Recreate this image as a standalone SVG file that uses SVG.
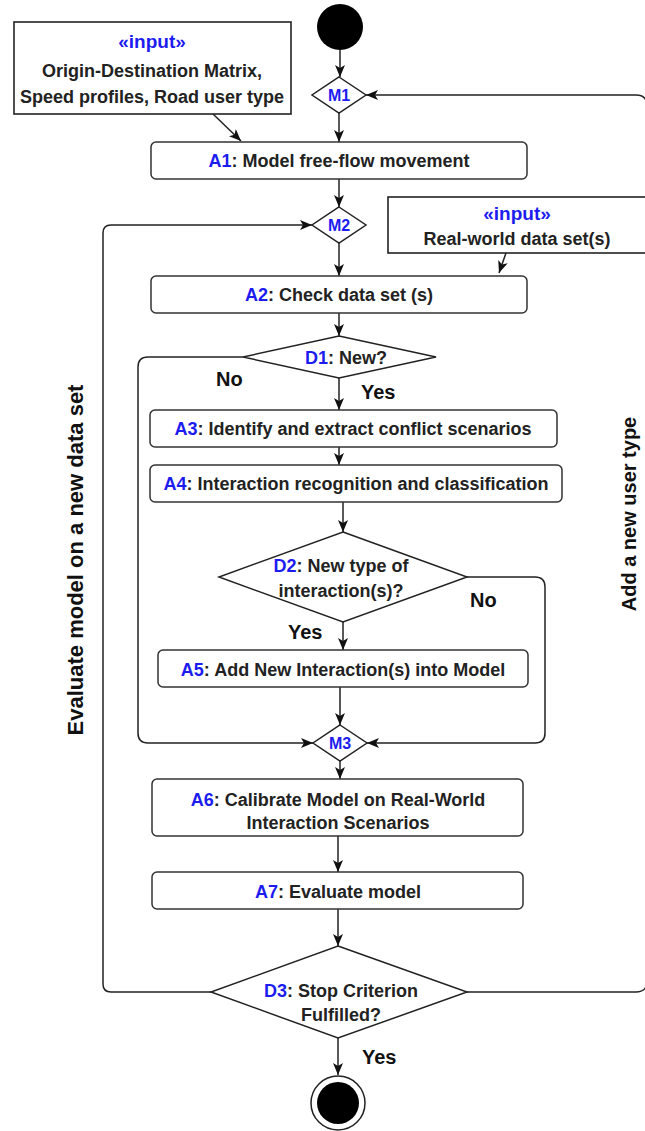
<svg xmlns="http://www.w3.org/2000/svg" width="645" height="1131" viewBox="0 0 645 1131">
<style>
  .box{fill:#fff;stroke:#333;stroke-width:1.5}
  .inbox{fill:#fff;stroke:#222;stroke-width:1.6}
  .dia{fill:#fff;stroke:#222;stroke-width:1.5}
  .t{font-family:"Liberation Sans",Arial,sans-serif;font-weight:bold;font-size:18px;fill:#222;text-anchor:middle}
  .b{fill:#1c1cf0}
  .m{font-family:"Liberation Sans",Arial,sans-serif;font-weight:bold;font-size:16px;fill:#1c1cf0;text-anchor:middle}
  .lbl{font-family:"Liberation Sans",Arial,sans-serif;font-weight:bold;font-size:20px;fill:#111}
  .c{fill:none;stroke:#222;stroke-width:1.5}
  .ca{fill:none;stroke:#222;stroke-width:1.5;marker-end:url(#arr)}
</style>
<defs>
  <marker id="arr" viewBox="0 0 12 10" refX="12" refY="5" markerWidth="12" markerHeight="10" markerUnits="userSpaceOnUse" orient="auto">
    <path d="M0,0 L12,5 L0,10 L3,5 z" fill="#111"/>
  </marker>
</defs>

<g id="connectors">
  <line class="ca" x1="340" y1="50" x2="340" y2="77"/>
  <line class="ca" x1="339" y1="113" x2="339" y2="142"/>
  <line class="ca" x1="213" y1="114" x2="241" y2="141"/>
  <line class="ca" x1="339" y1="179" x2="339" y2="207"/>
  <line class="ca" x1="339" y1="243" x2="339" y2="276"/>
  <line class="ca" x1="506" y1="253" x2="499" y2="273"/>
  <line class="ca" x1="339" y1="313" x2="339" y2="336"/>
  <line class="ca" x1="339" y1="378" x2="339" y2="410"/>
  <line class="ca" x1="339" y1="447" x2="339" y2="465"/>
  <line class="ca" x1="343" y1="502" x2="343" y2="532"/>
  <line class="ca" x1="343" y1="622" x2="343" y2="650"/>
  <line class="ca" x1="340" y1="687" x2="340" y2="725"/>
  <line class="ca" x1="340" y1="761" x2="340" y2="779"/>
  <line class="ca" x1="338" y1="836" x2="338" y2="872"/>
  <line class="ca" x1="338" y1="909" x2="338" y2="946"/>
  <line class="ca" x1="338" y1="1038" x2="338" y2="1075"/>
  <path class="ca" d="M243,357 H148 Q138,357 138,367 V733 Q138,743 148,743 H313"/>
  <path class="ca" d="M467,577 H535 Q545,577 545,587 V733 Q545,743 535,743 H367"/>
  <path class="ca" d="M211,992 H111 Q103,992 103,984 V233 Q103,225 111,225 H312"/>
  <path class="ca" d="M467,992 H636 Q647,992 647,981 V106 Q647,95 636,95 H366"/>
</g>

<g id="start"><circle cx="340" cy="27" r="23" fill="#000"/></g>

<g id="input1">
  <rect class="inbox" x="14" y="22" width="277" height="92"/>
  <text class="t" x="152" y="48" style="font-size:19px"><tspan class="b">«input»</tspan></text>
  <text class="t" x="152" y="77">Origin-Destination Matrix,</text>
  <text class="t" x="152" y="103">Speed profiles, Road user type</text>
</g>

<g id="M1">
  <polygon class="dia" points="339,77 366,95 339,113 312,95"/>
  <text class="m" x="339" y="101">M1</text>
</g>

<g id="A1">
  <rect class="box" x="151" y="142" width="376" height="37" rx="5"/>
  <text class="t" x="339" y="167"><tspan class="b">A1</tspan>: Model free-flow movement</text>
</g>

<g id="M2">
  <polygon class="dia" points="339,207 366,225 339,243 312,225"/>
  <text class="m" x="339" y="231">M2</text>
</g>

<g id="input2">
  <rect class="inbox" x="388" y="197" width="270" height="56"/>
  <text class="t" x="517" y="220" style="font-size:19px"><tspan class="b">«input»</tspan></text>
  <text class="t" x="517" y="245">Real-world data set(s)</text>
</g>

<g id="A2">
  <rect class="box" x="151" y="276" width="376" height="37" rx="5"/>
  <text class="t" x="339" y="301"><tspan class="b">A2</tspan>: Check data set (s)</text>
</g>

<g id="D1">
  <polygon class="dia" points="339,336 436,357 339,378 243,357"/>
  <text class="t" x="346" y="364"><tspan class="b">D1</tspan>: New?</text>
</g>
<text class="lbl" x="216" y="386">No</text>
<text class="lbl" x="361" y="399">Yes</text>

<g id="A3">
  <rect class="box" x="150" y="410" width="407" height="37" rx="5"/>
  <text class="t" x="353" y="435"><tspan class="b">A3</tspan>: Identify and extract conflict scenarios</text>
</g>

<g id="A4">
  <rect class="box" x="150" y="465" width="412" height="37" rx="5"/>
  <text class="t" x="356" y="490"><tspan class="b">A4</tspan>: Interaction recognition and classification</text>
</g>

<g id="D2">
  <polygon class="dia" points="343,532 467,577 343,622 219,577"/>
  <text class="t" x="341" y="572"><tspan class="b">D2</tspan>: New type of</text>
  <text class="t" x="341" y="597">interaction(s)?</text>
</g>
<text class="lbl" x="470" y="607">No</text>
<text class="lbl" x="288" y="639">Yes</text>

<g id="A5">
  <rect class="box" x="158" y="650" width="370" height="37" rx="5"/>
  <text class="t" x="343" y="676"><tspan class="b">A5</tspan>: Add New Interaction(s) into Model</text>
</g>

<g id="M3">
  <polygon class="dia" points="340,725 367,743 340,761 313,743"/>
  <text class="m" x="340" y="749">M3</text>
</g>

<g id="A6">
  <rect class="box" x="152" y="779" width="371" height="57" rx="5"/>
  <text class="t" x="338" y="806"><tspan class="b">A6</tspan>: Calibrate Model on Real-World</text>
  <text class="t" x="338" y="829">Interaction Scenarios</text>
</g>

<g id="A7">
  <rect class="box" x="152" y="872" width="371" height="37" rx="5"/>
  <text class="t" x="338" y="898"><tspan class="b">A7</tspan>: Evaluate model</text>
</g>

<g id="D3">
  <polygon class="dia" points="338,946 467,992 338,1038 211,992"/>
  <text class="t" x="341" y="997"><tspan class="b">D3</tspan>: Stop Criterion</text>
  <text class="t" x="341" y="1021">Fulfilled?</text>
</g>
<text class="lbl" x="362" y="1064">Yes</text>

<g id="end">
  <circle cx="338" cy="1103" r="27" fill="#fff" stroke="#222" stroke-width="1.5"/>
  <circle cx="338" cy="1103" r="21" fill="#000"/>
</g>

<text class="lbl" transform="translate(83,560) rotate(-90)" text-anchor="middle" style="font-size:22px">Evaluate model on a new data set</text>
<text class="lbl" transform="translate(636,514) rotate(-90)" text-anchor="middle">Add a new user type</text>
</svg>
